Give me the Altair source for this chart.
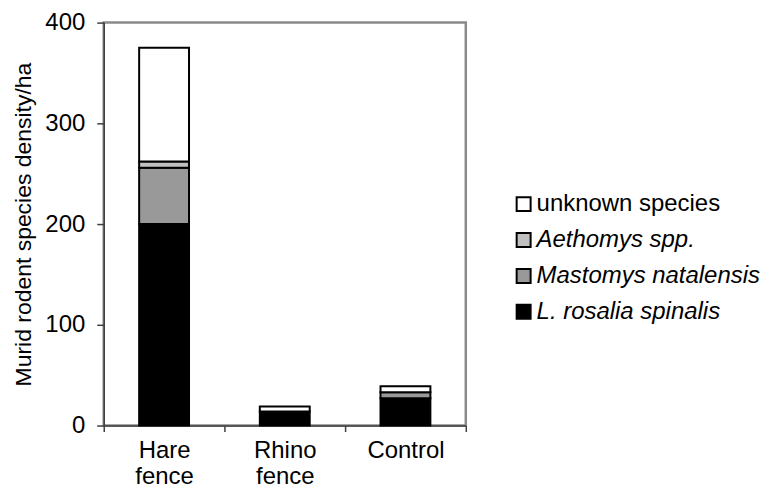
import altair as alt
import pandas as pd

categories = ["Hare fence", "Rhino fence", "Control"]
series = ["L. rosalia spinalis", "Mastomys natalensis", "Aethomys spp.", "unknown species"]
l_rosalia = [200, 14, 27]
mastomys = [56, 0, 6]
aethomys = [6, 0, 0]
unknown = [113, 5, 6]
colors = ["#000000", "#999999", "#c0c0c0", "#ffffff"]
legend_order = ["unknown species", "Aethomys spp.", "Mastomys natalensis", "L. rosalia spinalis"]
legend_italic = [False, True, True, True]
y_ticks = [0, 100, 200, 300, 400]

rows = []
for j, (s, vals) in enumerate(zip(series, [l_rosalia, mastomys, aethomys, unknown])):
    for i, c in enumerate(categories):
        rows.append({"site": c, "species": s, "value": vals[i], "order": j})
df = pd.DataFrame(rows)

FONT = "Liberation Sans"

bars = alt.Chart(df).transform_filter("datum.value > 0").mark_bar(
    stroke="black", strokeWidth=2, width=50
).encode(
    x=alt.X("site:N", sort=categories,
            scale=alt.Scale(paddingInner=0, paddingOuter=0),
            axis=alt.Axis(title=None, labelAngle=0, tickBand="extent",
                          labelExpr="split(datum.label, ' ')",
                          labelFontSize=24, labelFont=FONT, labelColor="black",
                          labelLineHeight=26, labelPadding=26, labelBaseline="alphabetic",
                          tickSize=6, tickColor="#404040", domainColor="#404040",
                          domainWidth=1.5, tickWidth=1.5)),
    y=alt.Y("value:Q", stack="zero",
            scale=alt.Scale(domain=[0, 400], nice=False),
            axis=alt.Axis(title="Murid rodent species density/ha", values=y_ticks,
                          grid=False, labelFontSize=24, labelFont=FONT, labelColor="black",
                          titleFont=FONT, titleFontSize=23, titleFontWeight="normal",
                          titleColor="black", titlePadding=9,
                          tickSize=7, tickColor="#404040", domainColor="#404040",
                          domainWidth=1.5, tickWidth=1.5, labelPadding=12)),
    color=alt.Color("species:N", scale=alt.Scale(domain=series, range=colors), legend=None),
    order=alt.Order("order:Q"),
).properties(width=363, height=404,
             view=alt.ViewBackground(stroke="#8a8a8a", strokeWidth=2.5))

leg_df = pd.DataFrame({"species": legend_order, "italic": legend_italic})
ybase = alt.Y("species:N", sort=legend_order,
              scale=alt.Scale(type="point", range=[182, 290], padding=0), axis=None)

squares = alt.Chart(leg_df).mark_square(size=196, stroke="black", strokeWidth=2, opacity=1).encode(
    y=ybase,
    x=alt.value(45),
    fill=alt.Fill("species:N", scale=alt.Scale(domain=series, range=colors), legend=None),
)
txt_it = alt.Chart(leg_df).transform_filter("datum.italic").mark_text(
    align="left", baseline="middle", fontSize=24, font=FONT, fontStyle="italic", color="black"
).encode(y=ybase, x=alt.value(58), text="species:N")
txt_n = alt.Chart(leg_df).transform_filter("!datum.italic").mark_text(
    align="left", baseline="middle", fontSize=24, font=FONT, color="black"
).encode(y=ybase, x=alt.value(58), text="species:N")

legend = alt.layer(squares, txt_it, txt_n).properties(
    width=60, height=404, view=alt.ViewBackground(stroke="transparent"))

chart = alt.hconcat(bars, legend, spacing=10).resolve_scale(
    color="independent", fill="independent"
).properties(padding={"left": 3, "top": 0, "right": 0, "bottom": 0})

chart.save("out.html", embed_options={"renderer": "svg", "actions": False})
